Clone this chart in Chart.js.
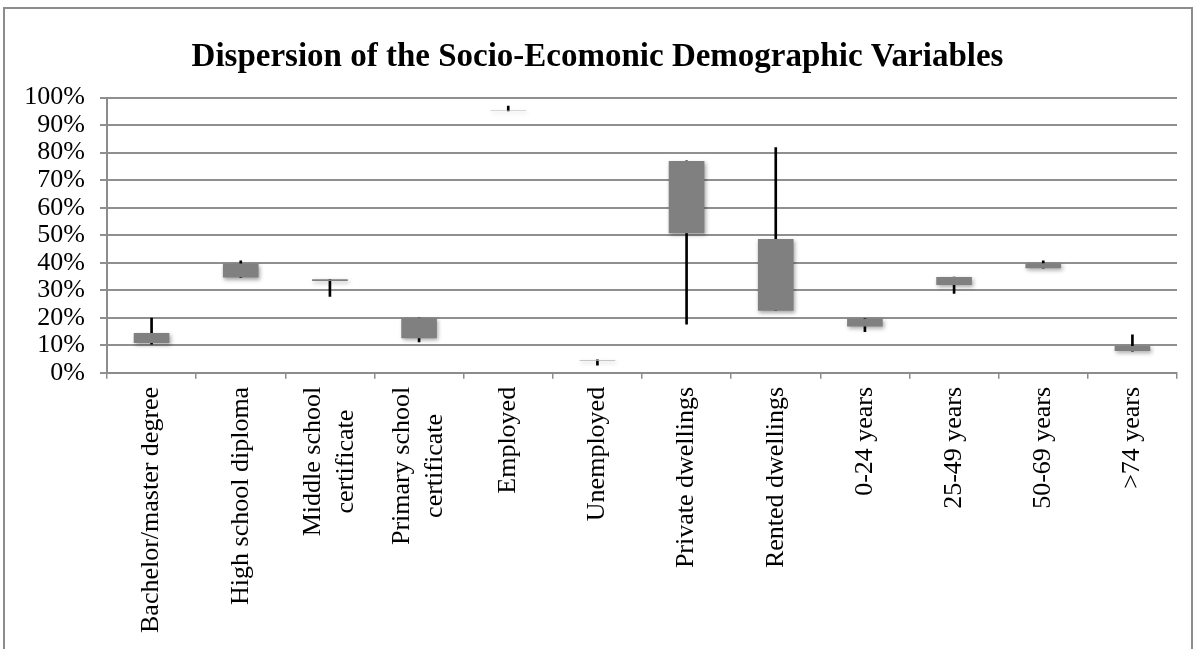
<!DOCTYPE html>
<html>
<head>
<meta charset="utf-8">
<title>Dispersion of the Socio-Ecomonic Demographic Variables</title>
<script src="https://cdn.jsdelivr.net/npm/chart.js@4/dist/chart.umd.min.js"></script>
<style>
  html, body { margin: 0; padding: 0; background: #ffffff; }
  #frame {
    position: absolute; left: 3px; top: 7px; width: 1190px; height: 700px;
    border: 2px solid #8c8c8c; box-sizing: border-box;
  }
  #wrap { position: absolute; left: 0; top: 0; width: 1198px; height: 649px; }
</style>
</head>
<body>
<div id="frame"></div>
<div id="wrap"><canvas id="chart" width="1198" height="649"></canvas></div>
<script>
// Categories shown along the horizontal axis (two-line labels as arrays)
const categories = [
  'Bachelor/master degree',
  'High school diploma',
  ['Middle school', 'certificate'],
  ['Primary school', 'certificate'],
  'Employed',
  'Unemployed',
  'Private dwellings',
  'Rented dwellings',
  '0-24 years',
  '25-49 years',
  '50-69 years',
  '>74 years'
];

// Percent values per category: box bottom/top and whisker low/high
const boxLow   = [10.8, 34.6, 33.4, 12.6, 95.2, 4.4, 50.7, 22.6, 16.8, 31.9, 38.0, 7.9];
const boxHigh  = [14.5, 39.7, 34.0, 19.9, 95.4, 4.7, 77.0, 48.6, 19.7, 34.8, 39.8, 9.8];
const lowValues  = [10.4, 34.6, 27.8, 11.2, 95.2, 2.8, 17.7, 22.6, 15.0, 28.9, 38.0, 7.9];
const highValues = [19.9, 40.7, 34.0, 19.9, 96.9, 4.7, 77.0, 81.8, 19.7, 34.8, 40.7, 13.8];

// Y axis tick values
const yTicks = [0, 10, 20, 30, 40, 50, 60, 70, 80, 90, 100];

const serif = "'Liberation Serif', 'Times New Roman', serif";
const labelFontSize = 26;
const labelLineHeight = 33;
const xTickLength = 6;
const xLabelPadding = 8;

const boxes = boxLow.map((v, i) => [v, boxHigh[i]]);
const whiskers = lowValues.map((v, i) => [v, highValues[i]]);

// Soft drop shadow under the boxes
const boxShadow = {
  id: 'boxShadow',
  beforeDatasetDraw(chart, args) {
    if (chart.data.datasets[args.index].label === 'Range') {
      const ctx = chart.ctx;
      ctx.save();
      ctx.shadowColor = 'rgba(0,0,0,0.35)';
      ctx.shadowBlur = 4;
      ctx.shadowOffsetX = 1.5;
      ctx.shadowOffsetY = 2;
    }
  },
  afterDatasetDraw(chart, args) {
    if (chart.data.datasets[args.index].label === 'Range') {
      chart.ctx.restore();
    }
  }
};

// Vertical category labels, with the lines of a multi-line label centred on each other
const verticalLabels = {
  id: 'verticalLabels',
  afterDraw(chart) {
    const scale = chart.scales.x;
    const ctx = chart.ctx;
    ctx.save();
    ctx.font = labelFontSize + 'px ' + serif;
    ctx.fillStyle = '#000000';
    ctx.textAlign = 'center';
    ctx.textBaseline = 'middle';
    categories.forEach((label, i) => {
      const lines = Array.isArray(label) ? label : [label];
      const maxW = Math.max(...lines.map(l => ctx.measureText(l).width));
      const x = scale.getPixelForTick(i);
      const y = scale.top + xTickLength + xLabelPadding;
      ctx.save();
      ctx.translate(x, y);
      ctx.rotate(-Math.PI / 2);
      lines.forEach((line, j) => {
        const off = (j - (lines.length - 1) / 2) * labelLineHeight;
        ctx.fillText(line, -maxW / 2, off);
      });
      ctx.restore();
    });
    ctx.restore();
  }
};

new Chart(document.getElementById('chart'), {
  type: 'bar',
  data: {
    labels: categories,
    datasets: [
      {
        label: 'Range',
        data: boxes,
        order: 0,
        grouped: false,
        barPercentage: 0.4,
        categoryPercentage: 1.0,
        backgroundColor: (c) => {
          const v = c.raw;
          return v && Math.abs(v[1] - v[0]) < 0.3 ? '#b4b4b4' : '#808080';
        },
        borderWidth: 0
      },
      {
        label: 'High-Low',
        data: whiskers,
        order: 1,
        grouped: false,
        barThickness: 2,
        backgroundColor: '#000000',
        borderWidth: 0
      }
    ]
  },
  options: {
    responsive: false,
    animation: false,
    devicePixelRatio: 1,
    layout: { padding: { left: 18, right: 21, top: 0, bottom: 8 } },
    plugins: {
      legend: { display: false },
      tooltip: { enabled: false },
      title: {
        display: true,
        text: 'Dispersion of the Socio-Ecomonic Demographic Variables',
        color: '#000000',
        font: { family: serif, size: 33, weight: 'bold', lineHeight: 1.2 },
        padding: { top: 38, bottom: 20 }
      }
    },
    scales: {
      x: {
        offset: true,
        grid: {
          offset: true,
          drawOnChartArea: false,
          drawTicks: true,
          tickLength: xTickLength,
          color: '#8c8c8c',
          lineWidth: 1.5
        },
        border: { display: true, color: '#8c8c8c', width: 2 },
        ticks: {
          autoSkip: false,
          maxRotation: 90,
          minRotation: 90,
          padding: xLabelPadding,
          color: 'rgba(0,0,0,0)',
          font: { family: serif, size: labelFontSize, lineHeight: labelLineHeight / labelFontSize }
        }
      },
      y: {
        min: 0,
        max: 100,
        afterBuildTicks: (scale) => { scale.ticks = yTicks.map(v => ({ value: v })); },
        afterFit: (scale) => { scale.width = 89; },
        grid: {
          color: '#8f8f8f',
          lineWidth: 2,
          tickLength: 7
        },
        border: { display: true, color: '#8c8c8c', width: 2 },
        ticks: {
          autoSkip: false,
          padding: 15,
          color: '#000000',
          font: { family: serif, size: 26 },
          callback: (v) => v + '%'
        }
      }
    }
  },
  plugins: [boxShadow, verticalLabels]
});
</script>
</body>
</html>
